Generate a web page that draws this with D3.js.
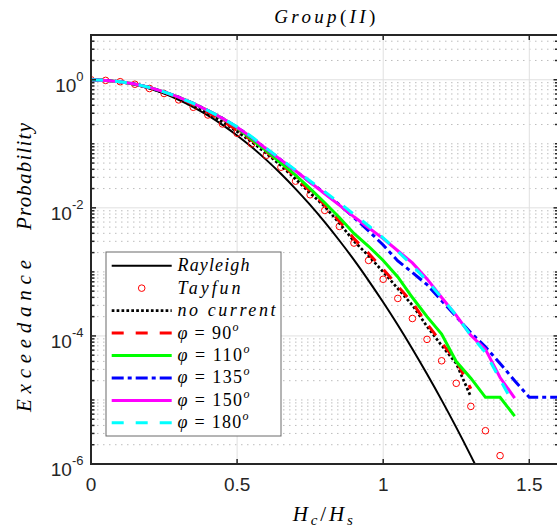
<!DOCTYPE html>
<html><head><meta charset="utf-8">
<script src="https://cdn.jsdelivr.net/npm/d3@7"></script>
<style>body{margin:0;background:#fff}</style>
</head><body>
<svg id="chart" width="557" height="529"></svg>
<script>
// ---------- data ----------
const rayleighX = [0,0.05,0.1,0.15,0.2,0.25,0.3,0.35,0.4,0.45,0.5,0.55,0.6,0.65,0.7,0.75,0.8,0.85,0.9,0.95,1.0,1.05,1.1,1.15,1.2,1.25,1.3,1.32];
const rayleighP = [1,0.980,0.923,0.835,0.726,0.607,0.487,0.375,0.278,0.198,0.135,0.0889,0.0561,0.0340,0.0198,0.0111,5.98e-3,3.09e-3,1.54e-3,7.32e-4,3.35e-4,1.48e-4,6.26e-5,2.54e-5,9.94e-6,3.73e-6,1.34e-6,8.8e-7];

const tayfunX = [0,0.05,0.1,0.15,0.2,0.25,0.3,0.35,0.4,0.45,0.5,0.55,0.6,0.65,0.7,0.75,0.8,0.85,0.9,0.95,1.0,1.05,1.1,1.15,1.2,1.25,1.3,1.35,1.4];
const tayfunP = [1,0.977,0.933,0.851,0.730,0.610,0.485,0.372,0.282,0.204,0.146,0.100,0.0661,0.0431,0.0261,0.0160,9.12e-3,5.13e-3,2.82e-3,1.51e-3,7.67e-4,3.85e-4,1.87e-4,8.83e-5,4.09e-5,1.82e-5,7.94e-6,3.31e-6,1.35e-6];

const noCurrentX = [0,0.05,0.1,0.15,0.2,0.25,0.3,0.35,0.4,0.45,0.5,0.55,0.6,0.65,0.7,0.75,0.8,0.85,0.9,0.95,1.0,1.05,1.1,1.15,1.2,1.25,1.3];
const noCurrentP = [1,0.977,0.933,0.851,0.741,0.631,0.513,0.398,0.302,0.219,0.155,0.107,0.0708,0.0457,0.0282,0.0170,0.0105,5.75e-3,3.02e-3,1.78e-3,1.0e-3,5.5e-4,3.02e-4,1.41e-4,7.08e-5,3.72e-5,1.12e-5];

const phi90X = [0,0.05,0.1,0.15,0.2,0.25,0.3,0.35,0.4,0.45,0.5,0.55,0.6,0.65,0.7,0.75,0.8,0.85,0.9,0.95,1.0,1.05,1.1,1.15,1.2,1.25,1.3];
const phi90P = [1,0.977,0.933,0.855,0.750,0.640,0.525,0.410,0.315,0.228,0.162,0.113,0.075,0.0490,0.0302,0.0182,0.0112,6.2e-3,3.3e-3,1.95e-3,1.1e-3,6.0e-4,3.3e-4,1.55e-4,7.8e-5,4.1e-5,1.5e-5];

const phi110X = [0,0.05,0.1,0.15,0.2,0.25,0.3,0.35,0.4,0.45,0.5,0.55,0.6,0.65,0.7,0.75,0.8,0.85,0.9,0.95,1.0,1.05,1.1,1.15,1.2,1.25,1.3,1.35,1.4,1.45];
const phi110P = [1,0.977,0.933,0.861,0.759,0.646,0.537,0.427,0.331,0.251,0.178,0.117,0.0776,0.0501,0.0324,0.0200,0.0120,7.08e-3,3.98e-3,2.51e-3,1.51e-3,8.32e-4,3.98e-4,2.0e-4,1.07e-4,3.98e-5,2.19e-5,1.1e-5,1.1e-5,5.6e-6];

const phi135X = [0,0.05,0.1,0.15,0.2,0.25,0.3,0.35,0.4,0.45,0.5,0.55,0.6,0.65,0.7,0.75,0.8,0.85,0.9,0.95,1.0,1.05,1.1,1.15,1.2,1.25,1.3,1.35,1.4,1.45,1.5,1.6];
const phi135P = [1,0.977,0.933,0.861,0.759,0.646,0.537,0.427,0.331,0.251,0.182,0.126,0.0832,0.0562,0.0380,0.0251,0.0170,0.0112,7.08e-3,4.37e-3,2.63e-3,1.48e-3,9.8e-4,6.31e-4,3.55e-4,2.0e-4,1.12e-4,6.76e-5,3.72e-5,2.0e-5,1.1e-5,1.1e-5];

const phi150X = [0,0.05,0.1,0.15,0.2,0.25,0.3,0.35,0.4,0.45,0.5,0.55,0.6,0.65,0.7,0.75,0.8,0.85,0.9,0.95,1.0,1.05,1.1,1.15,1.2,1.25,1.3,1.35,1.4,1.45];
const phi150P = [1,0.977,0.933,0.861,0.759,0.646,0.537,0.427,0.331,0.251,0.182,0.126,0.0832,0.0562,0.0380,0.0251,0.0166,0.0110,7.24e-3,4.9e-3,3.31e-3,2.14e-3,1.38e-3,7.76e-4,3.98e-4,2.09e-4,1.02e-4,6.17e-5,2.24e-5,1.07e-5];

const phi180X = [0,0.05,0.1,0.15,0.2,0.25,0.3,0.35,0.4,0.45,0.5,0.55,0.6,0.65,0.7,0.75,0.8,0.85,0.9,0.95,1.0,1.05,1.1,1.15,1.2,1.25,1.3,1.35,1.4,1.43];
const phi180P = [1,0.977,0.933,0.861,0.759,0.646,0.537,0.427,0.331,0.251,0.185,0.129,0.0851,0.0575,0.0389,0.0263,0.0178,0.0120,7.94e-3,5.25e-3,3.39e-3,2.09e-3,1.26e-3,7.24e-4,3.98e-4,2.09e-4,1.02e-4,5.5e-5,2.09e-5,1.17e-5];

const xTicks = [0, 0.5, 1, 1.5];
const xTickLabels = ["0", "0.5", "1", "1.5"];
const yTickExps = [0, -2, -4, -6];
const yTickLabels = ["0", "-2", "-4", "-6"];

// ---------- layout ----------
const W = 557, H = 529;
const L = 91, R = 558.5, T = 35, B = 464;
const svg = d3.select("#chart");
const x = d3.scaleLinear().domain([0, 1.6]).range([L, R]);
const y = d3.scaleLog().domain([1e-6, 5]).range([B, T]);
const axisCol = "#262626";
const serif = "Liberation Serif";
const sans = "Liberation Sans";

svg.append("rect").attr("width", W).attr("height", H).attr("fill", "#fff");

// ---------- grid ----------
const grid = svg.append("g");
const minorVals = [];
for (let e = -6; e <= 0; e++) {
  for (let m = 1; m <= 9; m++) {
    const v = m * Math.pow(10, e);
    if (v > 5.0001) continue;
    const major = (m === 1 && yTickExps.includes(e));
    if (!major) minorVals.push(v);
  }
}
grid.selectAll("line.minor").data(minorVals).join("line")
  .attr("x1", L).attr("x2", R)
  .attr("y1", d => y(d)).attr("y2", d => y(d))
  .attr("stroke", "#bdbdbd").attr("stroke-width", 1)
  .attr("stroke-dasharray", "1.5,4.5");
grid.selectAll("line.majy").data(yTickExps).join("line")
  .attr("x1", L).attr("x2", R)
  .attr("y1", d => y(Math.pow(10, d))).attr("y2", d => y(Math.pow(10, d)))
  .attr("stroke", "#e0e0e0").attr("stroke-width", 1);
grid.selectAll("line.majx").data(xTicks).join("line")
  .attr("x1", d => x(d)).attr("x2", d => x(d))
  .attr("y1", T).attr("y2", B)
  .attr("stroke", "#e0e0e0").attr("stroke-width", 1);

// ---------- data ----------
svg.append("clipPath").attr("id", "clip").append("rect")
  .attr("x", L).attr("y", T).attr("width", R - L).attr("height", B - T);
const plot = svg.append("g").attr("clip-path", "url(#clip)");

const line = d3.line().x(d => x(d[0])).y(d => y(d[1]));
const lineSmooth = d3.line().x(d => x(d[0])).y(d => y(d[1])).curve(d3.curveMonotoneX);
const zip = (a, b) => a.map((v, i) => [v, b[i]]);

plot.append("path").datum(zip(rayleighX, rayleighP)).attr("d", lineSmooth)
  .attr("fill", "none").attr("stroke", "#000").attr("stroke-width", 2);

plot.selectAll("circle.tay").data(zip(tayfunX, tayfunP)).join("circle")
  .attr("cx", d => x(d[0])).attr("cy", d => y(d[1])).attr("r", 3.3)
  .attr("fill", "none").attr("stroke", "#ff0000").attr("stroke-width", 1);

const series = [
  {x: noCurrentX, p: noCurrentP, col: "#000000", w: 2.7, dash: "2.7,2.2"},
  {x: phi90X, p: phi90P, col: "#ff0000", w: 3, dash: "12,12"},
  {x: phi110X, p: phi110P, col: "#00ff00", w: 3, dash: null},
  {x: phi135X, p: phi135P, col: "#0000ff", w: 3, dash: "12,4,4,4"},
  {x: phi150X, p: phi150P, col: "#ff00ff", w: 3, dash: null},
  {x: phi180X, p: phi180P, col: "#00ffff", w: 3, dash: "12,12"}
];
series.forEach(s => {
  plot.append("path").datum(zip(s.x, s.p)).attr("d", line)
    .attr("fill", "none").attr("stroke", s.col).attr("stroke-width", s.w)
    .attr("stroke-dasharray", s.dash);
});

// ---------- axes box & ticks ----------
const ax = svg.append("g");
const allY = minorVals.concat(yTickExps.map(e => Math.pow(10, e)));
allY.forEach(v => {
  const isMaj = yTickExps.some(e => Math.abs(Math.pow(10, e) - v) < 1e-12);
  const len = isMaj ? 5 : 3.5;
  ax.append("line").attr("x1", L).attr("x2", L + len).attr("y1", y(v)).attr("y2", y(v))
    .attr("stroke", axisCol).attr("stroke-width", 1.5);
  ax.append("line").attr("x1", R).attr("x2", R - len).attr("y1", y(v)).attr("y2", y(v))
    .attr("stroke", axisCol).attr("stroke-width", 1.5);
});
xTicks.forEach(v => {
  ax.append("line").attr("x1", x(v)).attr("x2", x(v)).attr("y1", B).attr("y2", B - 5)
    .attr("stroke", axisCol).attr("stroke-width", 1.5);
  ax.append("line").attr("x1", x(v)).attr("x2", x(v)).attr("y1", T).attr("y2", T + 5)
    .attr("stroke", axisCol).attr("stroke-width", 1.5);
});
ax.append("rect").attr("x", L).attr("y", T).attr("width", R - L).attr("height", B - T)
  .attr("fill", "none").attr("stroke", axisCol).attr("stroke-width", 2);

// tick labels
xTicks.forEach((v, i) => {
  svg.append("text").attr("x", x(v)).attr("y", 491).attr("text-anchor", "middle")
    .attr("font-family", sans).attr("font-size", 19).attr("fill", axisCol)
    .text(xTickLabels[i]);
});
yTickExps.forEach((e, i) => {
  const t = svg.append("text").attr("x", 83.5).attr("y", y(Math.pow(10, e)) + 12)
    .attr("text-anchor", "end").attr("font-family", sans).attr("font-size", 19).attr("fill", axisCol);
  t.append("tspan").text("10");
  t.append("tspan").attr("font-size", 13).attr("dy", -11).text(yTickLabels[i]);
});

// ---------- titles ----------
const title = svg.append("text").attr("x", (L + R) / 2).attr("y", 22.5).attr("text-anchor", "middle")
  .attr("font-family", serif).attr("font-size", 19).attr("fill", "#000")
  .attr("textLength", 101).attr("lengthAdjust", "spacing");
title.append("tspan").attr("font-style", "italic").text("Group");
title.append("tspan").text("(");
title.append("tspan").attr("font-style", "italic").text("II");
title.append("tspan").text(")");

const xl = svg.append("text").attr("x", (L + R) / 2 - 2).attr("y", 521).attr("text-anchor", "middle")
  .attr("font-family", serif).attr("font-size", 21).attr("fill", "#000")
  .attr("textLength", 60).attr("lengthAdjust", "spacing");
xl.append("tspan").attr("font-style", "italic").text("H");
xl.append("tspan").attr("font-style", "italic").attr("font-size", 15).attr("dy", 4).text("c");
xl.append("tspan").attr("dy", -4).text("/");
xl.append("tspan").attr("font-style", "italic").text("H");
xl.append("tspan").attr("font-style", "italic").attr("font-size", 15).attr("dy", 4).text("s");

[["Probability", 176.5, 107], ["Exceedance", 336, 152]].forEach(([s, cy, len]) => {
  svg.append("text").attr("transform", `translate(31,${cy}) rotate(-90)`)
    .attr("text-anchor", "middle").attr("font-family", serif).attr("font-style", "italic")
    .attr("font-size", 21).attr("fill", "#000")
    .attr("textLength", len).attr("lengthAdjust", "spacing").text(s);
});

// ---------- legend ----------
const lg = svg.append("g");
lg.append("rect").attr("x", 106).attr("y", 252).attr("width", 175).attr("height", 184)
  .attr("fill", "#fff").attr("stroke", "#6a6a6a").attr("stroke-width", 1);
const legendItems = [
  {type: "line", col: "#000", w: 2, dash: null, label: [["Rayleigh", "i"]], len: 72},
  {type: "marker", label: [["Tayfun", "i"]], len: 63},
  {type: "line", col: "#000", w: 2.7, dash: "2.7,2.2", label: [["no   current", "i"]], len: 98},
  {type: "line", col: "#ff0000", w: 3, dash: "12,12", label: [["φ", "i"], [" = 90", "n"], ["o", "s"]], len: 61},
  {type: "line", col: "#00ff00", w: 3, dash: null, label: [["φ", "i"], [" = 110", "n"], ["o", "s"]], len: 72},
  {type: "line", col: "#0000ff", w: 3, dash: "12,4,4,4", label: [["φ", "i"], [" = 135", "n"], ["o", "s"]], len: 72},
  {type: "line", col: "#ff00ff", w: 3, dash: null, label: [["φ", "i"], [" = 150", "n"], ["o", "s"]], len: 72},
  {type: "line", col: "#00ffff", w: 3, dash: "12,12", label: [["φ", "i"], [" = 180", "n"], ["o", "s"]], len: 71}
];
legendItems.forEach((it, i) => {
  const cy = 265.7 + i * 22.45;
  if (it.type === "line") {
    lg.append("line").attr("x1", 111.7).attr("x2", 171.7).attr("y1", cy).attr("y2", cy)
      .attr("stroke", it.col).attr("stroke-width", it.w).attr("stroke-dasharray", it.dash);
  } else {
    lg.append("circle").attr("cx", 141.7).attr("cy", cy).attr("r", 3.3)
      .attr("fill", "none").attr("stroke", "#ff0000").attr("stroke-width", 1);
  }
  const t = lg.append("text").attr("x", 177.5).attr("y", cy + 5.5)
    .attr("font-family", serif).attr("font-size", 18).attr("fill", "#000")
    .attr("textLength", it.len).attr("lengthAdjust", "spacing");
  it.label.forEach(([s, k]) => {
    const ts = t.append("tspan").text(s);
    if (k === "i") ts.attr("font-style", "italic");
    if (k === "s") ts.attr("font-style", "italic").attr("font-size", 12).attr("dy", -8);
  });
});
</script>
</body></html>
